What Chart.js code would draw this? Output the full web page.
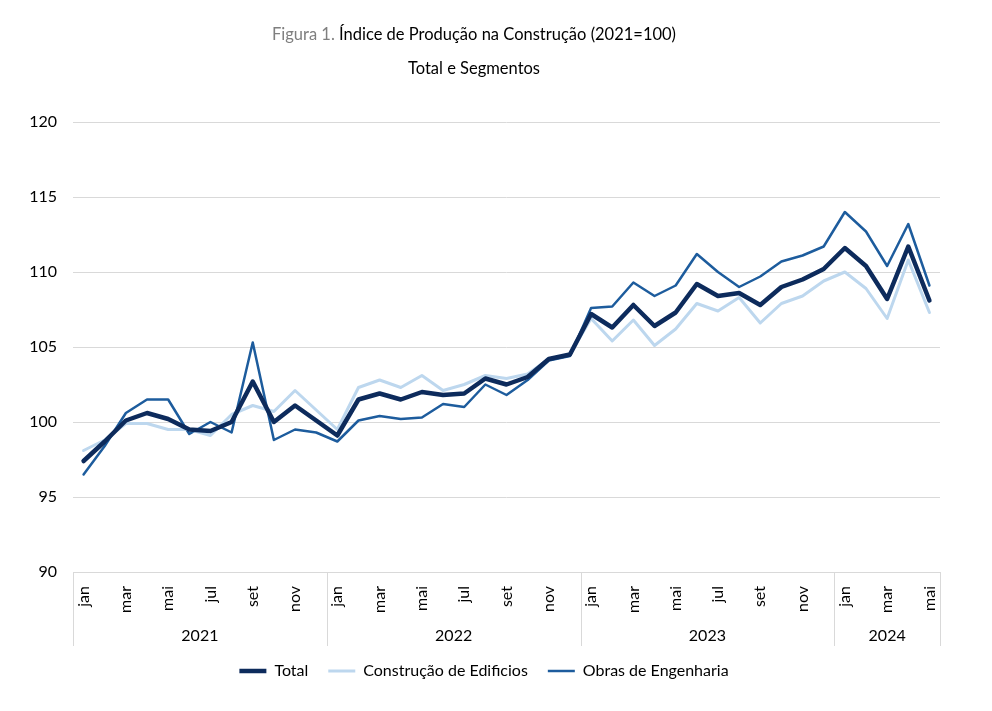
<!DOCTYPE html>
<html lang="pt">
<head>
    <meta charset="UTF-8">
    <title>Índice de Produção na Construção</title>
    <script src="https://cdn.jsdelivr.net/npm/chart.js"></script>
    <style>
        body {
            margin: 0;
            background: white;
            font-family: Lato, "Open Sans", sans-serif;
        }
        .wrap {
            position: relative;
            width: 992px;
            height: 711px;
        }
        .title, .subtitle {
            position: absolute;
            left: 0;
            width: 948px;
            text-align: center;
            font-size: 16.5px;
            color: #000;
        }
        .title { top: 24px; }
        .subtitle { top: 58px; }
        .title .fig { color: #7f7f7f; }
        #chart {
            position: absolute;
            left: 0;
            top: 0;
        }
    </style>
</head>
<body>
<div class="wrap">
    <canvas id="chart" width="992" height="711"></canvas>
    <div class="title"><span class="fig">Figura 1.</span> Índice de Produção na Construção (2021=100)</div>
    <div class="subtitle">Total e Segmentos</div>
</div>

<script>
    // months and years on the x axis
    const monthNames = ['jan', 'fev', 'mar', 'abr', 'mai', 'jun', 'jul', 'ago', 'set', 'out', 'nov', 'dez'];
    const years = ['2021', '2022', '2023', '2024'];
    const monthsInYear = [12, 12, 12, 5];

    // series
    const total = [97.4, 98.7, 100.1, 100.6, 100.2, 99.5, 99.4, 100.0, 102.7, 100.0, 101.1, 100.1,
                   99.1, 101.5, 101.9, 101.5, 102.0, 101.8, 101.9, 102.9, 102.5, 103.0, 104.2, 104.5,
                   107.2, 106.3, 107.8, 106.4, 107.3, 109.2, 108.4, 108.6, 107.8, 109.0, 109.5, 110.2,
                   111.6, 110.4, 108.2, 111.7, 108.1];
    const edificios = [98.1, 98.8, 99.9, 99.9, 99.5, 99.5, 99.1, 100.5, 101.1, 100.7, 102.1, 100.8,
                       99.5, 102.3, 102.8, 102.3, 103.1, 102.1, 102.5, 103.1, 102.9, 103.2, 104.2, 104.5,
                       106.9, 105.4, 106.8, 105.1, 106.2, 107.9, 107.4, 108.3, 106.6, 107.9, 108.4, 109.4,
                       110.0, 108.9, 106.9, 110.8, 107.3];
    const engenharia = [96.5, 98.4, 100.6, 101.5, 101.5, 99.2, 100.0, 99.3, 105.3, 98.8, 99.5, 99.3,
                        98.7, 100.1, 100.4, 100.2, 100.3, 101.2, 101.0, 102.5, 101.8, 102.8, 104.1, 104.4,
                        107.6, 107.7, 109.3, 108.4, 109.1, 111.2, 110.0, 109.0, 109.7, 110.7, 111.1, 111.7,
                        114.0, 112.7, 110.4, 113.2, 109.1];

    const labels = [];
    monthsInYear.forEach((n) => {
        for (let m = 0; m < n; m++) labels.push(monthNames[m]);
    });

    const FONT = 'Lato, "Open Sans", sans-serif';
    const GRID = '#d9d9d9';

    // year labels and separators under the month ticks
    const yearGroups = {
        id: 'yearGroups',
        afterDraw(chart) {
            const ctx = chart.ctx;
            const xs = chart.scales.x;
            const top = chart.chartArea.bottom;
            const half = (xs.getPixelForValue(1) - xs.getPixelForValue(0)) / 2;
            ctx.save();
            ctx.strokeStyle = GRID;
            ctx.lineWidth = 1;
            ctx.fillStyle = '#000';
            ctx.font = '16px ' + FONT;
            ctx.textAlign = 'center';
            ctx.textBaseline = 'middle';
            let start = 0;
            years.forEach((yr, i) => {
                const end = start + monthsInYear[i] - 1;
                const left = xs.getPixelForValue(start) - half;
                const right = xs.getPixelForValue(end) + half;
                ctx.beginPath();
                ctx.moveTo(Math.round(left) + 0.5, top);
                ctx.lineTo(Math.round(left) + 0.5, top + 74);
                if (i === years.length - 1) {
                    ctx.moveTo(Math.round(right) + 0.5, top);
                    ctx.lineTo(Math.round(right) + 0.5, top + 74);
                }
                ctx.stroke();
                ctx.fillText(yr, (left + right) / 2, top + 64);
                start = end + 1;
            });
            ctx.restore();
        }
    };

    new Chart(document.getElementById('chart'), {
        type: 'line',
        data: {
            labels: labels,
            datasets: [
                {
                    label: 'Total',
                    data: total,
                    borderColor: '#0d2b5c',
                    backgroundColor: '#0d2b5c',
                    borderWidth: 4.5
                },
                {
                    label: 'Construção de Edificios',
                    data: edificios,
                    borderColor: '#bdd7ee',
                    backgroundColor: '#bdd7ee',
                    borderWidth: 3
                },
                {
                    label: 'Obras de Engenharia',
                    data: engenharia,
                    borderColor: '#1d5c9d',
                    backgroundColor: '#1d5c9d',
                    borderWidth: 2.5
                }
            ]
        },
        options: {
            responsive: false,
            animation: false,
            elements: {
                point: { radius: 0 },
                line: { tension: 0, borderJoinStyle: 'round', borderCapStyle: 'round' }
            },
            layout: {
                padding: { top: 122, left: 28, right: 52, bottom: 22 }
            },
            scales: {
                x: {
                    offset: true,
                    grid: { display: false },
                    border: { color: GRID },
                    ticks: {
                        autoSkip: false,
                        minRotation: 90,
                        maxRotation: 90,
                        padding: 6,
                        color: '#000',
                        font: { family: FONT, size: 16 },
                        callback: (v, i) => i % 2 === 0 ? labels[i] : ''
                    },
                    afterFit: s => { s.height = 71; }
                },
                y: {
                    min: 90,
                    max: 120,
                    border: { display: false },
                    grid: { color: GRID, drawTicks: false },
                    ticks: {
                        stepSize: 5,
                        padding: 16,
                        color: '#000',
                        font: { family: FONT, size: 16 }
                    },
                    afterFit: s => { s.width = 45; }
                }
            },
            plugins: {
                title: { display: false },
                tooltip: { enabled: false },
                legend: {
                    position: 'bottom',
                    labels: {
                        usePointStyle: true,
                        pointStyle: 'line',
                        pointStyleWidth: 27,
                        padding: 20,
                        color: '#000',
                        font: { family: FONT, size: 16 }
                    }
                }
            }
        },
        plugins: [yearGroups]
    });
</script>
</body>
</html>
